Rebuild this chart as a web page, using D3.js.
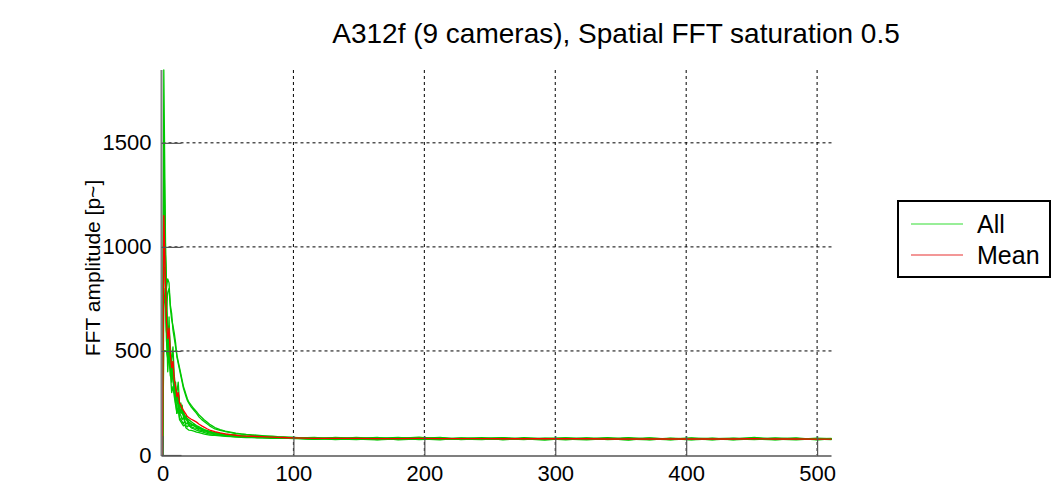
<!DOCTYPE html>
<html>
<head>
<meta charset="utf-8">
<script src="https://cdn.jsdelivr.net/npm/d3@7"></script>
<style>
  html, body { margin: 0; padding: 0; background: #fff; }
  svg { display: block; font-family: "Liberation Sans", Arial, Helvetica, sans-serif; }
</style>
</head>
<body>
<svg id="chart" width="1052" height="502"></svg>
<script>
const titleText = "A312f (9 cameras), Spatial FFT saturation 0.5";
const yLabel = "FFT amplitude [p~]";
const legendLabels = ["All", "Mean"];
const xTicks = [0, 100, 200, 300, 400, 500];
const yTicks = [0, 500, 1000, 1500];

const xs = [0,1,2,3,4,5,6,7,8,9,10,11,12,13,14,15,16,17,18,19,20,
  22,24,26,28,30,32,34,36,38,40,
  44,48,52,56,60,64,68,72,76,80,84,88,92,96,100,
  116,132,148,164,180,196,212,228,244,260,276,292,308,324,340,356,372,388,404,420,436,452,468,484,500,511];

const camA = [0,1850,1200,600,500,600,420,380,450,300,280,260,300,220,200,240,180,170,190,160,150,
  140,150,130,125,128,118,115,112,110,108,
  104,100,98,96,92,90,88,87,86,85,84,83,82,82,81,
  84,76,82,74,80,86,75,79,83,73,80,76,82,75,79,72,81,77,74,80,76,84,75,80,73,78];
const camB = [0,1500,1100,700,450,550,480,350,400,320,250,230,280,200,190,170,180,160,150,155,140,
  135,130,128,120,118,112,110,105,104,100,
  98,95,93,90,90,88,86,85,84,84,83,82,82,81,80,
  78,83,75,81,77,80,85,74,79,82,76,79,73,80,77,83,74,78,80,73,79,75,78,82,74,76];
const camC = [0,1400,1000,650,400,500,380,420,360,300,270,200,240,180,170,160,150,165,140,135,145,
  130,125,120,115,112,108,104,100,100,98,
  95,92,90,88,87,86,85,84,84,83,82,82,81,80,80,
  81,74,79,84,73,78,80,76,74,81,78,72,80,76,83,75,78,73,79,76,74,81,77,73,79,75];
const camD = [0,1000,1000,800,600,620,500,450,520,380,320,300,350,250,230,220,200,180,175,170,160,
  150,140,138,130,125,120,115,112,108,106,
  102,98,95,92,90,88,87,86,85,84,83,82,82,81,81,
  75,82,78,76,83,77,73,82,78,76,83,79,76,81,74,78,82,75,77,81,73,78,80,76,78,80];
const camE = [0,900,900,550,480,450,400,300,330,280,240,200,220,170,160,150,140,145,130,125,120,
  118,115,110,108,104,100,98,96,95,94,
  92,90,88,86,85,84,84,83,82,82,81,81,80,80,79,
  79,77,85,78,75,82,78,80,75,78,74,81,77,73,79,80,75,81,76,74,80,76,73,79,76,74];
const camF = [0,700,800,600,520,480,520,420,380,350,300,260,300,230,210,200,190,180,170,165,155,
  148,140,135,128,122,118,114,110,108,105,
  100,97,94,92,90,88,87,86,85,84,83,83,82,81,81,
  77,80,76,79,81,74,79,77,81,79,77,75,79,82,76,74,79,76,82,77,78,74,79,75,81,77];
const camG = [0,500,500,500,464,663,450,380,420,320,350,250,280,220,250,200,210,190,180,175,170,
  160,150,142,135,128,122,118,114,110,107,
  103,99,96,93,91,89,88,87,86,85,84,83,82,82,81,
  83,79,77,73,78,83,76,81,77,75,80,78,75,78,80,77,73,80,75,79,75,80,76,78,75,79];
const camH = [0,1300,1000,800,846,827,706,650,620,586,540,471,440,410,380,350,320,300,280,262,250,
  230,215,200,182,170,160,150,140,132,125,
  118,112,107,103,100,98,95,93,91,90,88,87,86,85,84,
  76,84,80,82,76,79,81,75,80,83,75,80,82,77,75,81,77,79,73,78,81,77,82,76,77,75];
const camI = [0,1200,900,700,780,800,720,680,600,560,520,480,450,420,390,360,330,310,290,270,255,
  238,222,208,192,180,168,158,148,140,132,
  122,115,110,105,102,99,97,95,93,91,90,88,87,86,85,
  80,78,74,80,84,76,82,78,76,80,79,77,78,79,81,76,80,74,80,76,77,82,74,78,76,78];
const meanVals = [0,1150,900,640,560,610,480,420,450,360,330,280,300,250,240,225,215,205,195,185,180,
  172,165,158,148,140,133,126,120,116,112,
  106,101,98,95,92,91,90,89,88,87,86,85,84,83,82,
  80,80,80,79,79,80,79,79,79,78,78,78,78,78,77,77,77,77,77,77,77,78,77,77,76,76];

const cameras = [camA, camB, camC, camD, camE, camF, camG, camH, camI];

const svg = d3.select("#chart");
const pLeft = 162.5, pRight = 831.5, pTop = 70, pBottom = 455;
const x = d3.scaleLinear().domain([0, 511]).range([pLeft, pRight]);
const y = d3.scaleLinear().domain([0, 1850]).range([pBottom, pTop]);

const green = "#00c800", red = "#ff0000", axisGray = "#7f7f7f";

// grid
const grid = svg.append("g");
grid.selectAll("line.gx").data(xTicks.filter(d => d > 0)).join("line")
  .attr("x1", d => x(d)).attr("x2", d => x(d))
  .attr("y1", pTop).attr("y2", pBottom + 1)
  .attr("stroke", "#000").attr("stroke-width", 1).attr("stroke-dasharray", "3,3");
grid.selectAll("line.gy").data(yTicks.filter(d => d > 0)).join("line")
  .attr("x1", pLeft).attr("x2", pRight)
  .attr("y1", d => y(d)).attr("y2", d => y(d))
  .attr("stroke", "#000").attr("stroke-width", 1).attr("stroke-dasharray", "3,3");

// data
const line = d3.line().x((d, i) => x(xs[i])).y(d => y(d));
svg.append("g").selectAll("path").data(cameras).join("path")
  .attr("d", d => line(d)).attr("fill", "none")
  .attr("stroke", green).attr("stroke-width", 1.3).attr("stroke-linejoin", "round");
svg.append("path").attr("d", line(meanVals)).attr("fill", "none")
  .attr("stroke", red).attr("stroke-width", 1.3).attr("stroke-linejoin", "round");

// axes
const fmt = d3.format("d");
const xAxis = d3.axisBottom(x).tickValues(xTicks).tickFormat(fmt).tickSizeInner(-20).tickSizeOuter(0);
const yAxis = d3.axisLeft(y).tickValues(yTicks).tickFormat(fmt).tickSizeInner(-20).tickSizeOuter(0);
const gx = svg.append("g").attr("transform", `translate(0,${pBottom + 1})`).call(xAxis);
const gy = svg.append("g").attr("transform", `translate(${pLeft - 1},0)`).call(yAxis);
[gx, gy].forEach(g => {
  g.select(".domain").attr("stroke", axisGray).attr("stroke-width", 2);
  g.selectAll(".tick line").attr("stroke", "#555").attr("stroke-width", 1.2);
  g.selectAll(".tick text").attr("fill", "#000").attr("font-size", 22)
    .attr("font-family", "'Liberation Sans', Arial, sans-serif");
});
gy.select(".domain").attr("d", `M0,${pTop}V${pBottom + 1}`);
gx.select(".domain").attr("d", `M${pLeft - 1},0H${pRight}`);
gx.selectAll(".tick text").attr("dy", "0.71em").attr("y", 9);
gy.selectAll(".tick text").attr("x", -10);

// title
svg.append("text").attr("x", 616).attr("y", 43).attr("text-anchor", "middle")
  .attr("font-size", 28).attr("fill", "#000").text(titleText);

// y label
svg.append("text").attr("transform", `translate(100,268) rotate(-90)`)
  .attr("text-anchor", "middle").attr("font-size", 21).attr("fill", "#000").text(yLabel);

// legend
const lg = svg.append("g");
lg.append("rect").attr("x", 898).attr("y", 201).attr("width", 152).attr("height", 76)
  .attr("fill", "#fff").attr("stroke", "#000").attr("stroke-width", 2);
const legColors = ["#33dd33", "#e83030"];
legendLabels.forEach((lab, i) => {
  const ly = 224 + i * 31;
  lg.append("line").attr("x1", 911).attr("x2", 963).attr("y1", ly).attr("y2", ly)
    .attr("stroke", legColors[i]).attr("stroke-width", 1.2);
  lg.append("text").attr("x", 977).attr("y", ly + 9).attr("font-size", 25)
    .attr("fill", "#000").text(lab);
});
</script>
</body>
</html>
